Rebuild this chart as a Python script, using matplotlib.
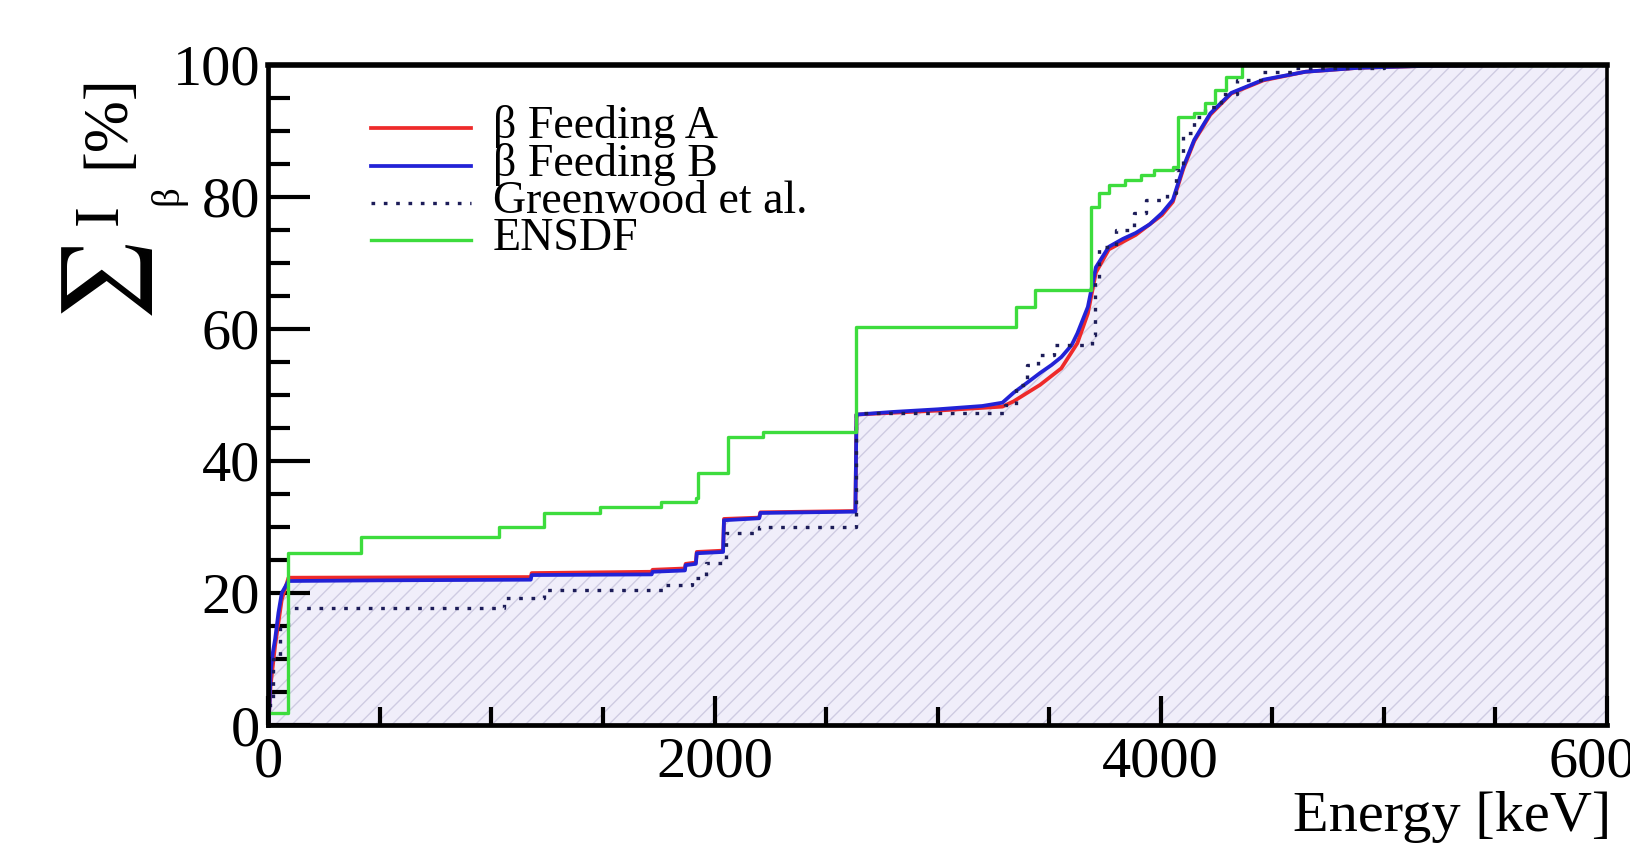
import numpy as np
import matplotlib
matplotlib.use("Agg")
from matplotlib import pyplot as plt
from matplotlib.lines import Line2D
from matplotlib.ticker import MultipleLocator

plt.rcParams['font.family'] = ['Liberation Serif', 'DejaVu Serif']
plt.rcParams['mathtext.fontset'] = 'stix'
plt.rcParams['hatch.linewidth'] = 1.0

# ENSDF cumulative feeding (steps)
ensdf_e = [0, 88, 414, 1035, 1237, 1488, 1758, 1916, 1925, 2060, 2218, 2634,
           3352, 3435, 3686, 3721, 3767, 3839, 3911, 3969, 4054, 4078, 4150,
           4199, 4244, 4293, 4365, 4500, 6000]
ensdf_i = [1.8, 26.0, 28.5, 30.0, 32.1, 33.0, 33.8, 34.4, 38.1, 43.6, 44.4, 60.3,
           63.3, 65.9, 78.4, 80.5, 81.8, 82.5, 83.3, 84.0, 84.5, 92.0, 92.6,
           94.2, 96.1, 98.1, 99.9, 100.0, 100.0]

# beta feeding B
feed_b_e = [0, 5, 10, 20, 30, 45, 60, 90, 500, 1176, 1180, 1718, 1722, 1867,
            1870, 1916, 1920, 2038, 2042, 2200, 2205, 2631, 2636, 2800, 3000,
            3200, 3290, 3340, 3400, 3459, 3510, 3554, 3600, 3626, 3673, 3709,
            3767, 3830, 3888, 3950, 4005, 4054, 4101, 4150, 4222, 4316, 4460,
            4648, 4886, 5200, 6000]
feed_b_i = [0, 3, 8, 11, 13, 17, 20, 21.8, 21.9, 22.0, 22.7, 22.8, 23.2, 23.4,
            24.2, 24.4, 26.0, 26.2, 31.0, 31.3, 32.1, 32.3, 47.0, 47.4, 47.8,
            48.3, 48.8, 50.3, 51.8, 53.3, 54.5, 55.7, 57.5, 59.3, 63.3, 69.3,
            72.4, 73.6, 74.5, 75.8, 77.5, 79.5, 84.5, 88.6, 92.6, 95.7, 97.7,
            98.9, 99.5, 99.8, 100.0]

# beta feeding A
feed_a_e = [0, 10, 30, 60, 90, 1176, 1180, 1718, 1722, 1867, 1870, 1916, 1920,
            2038, 2042, 2200, 2205, 2631, 2636, 3000, 3290, 3340, 3459, 3554,
            3626, 3673, 3709, 3767, 3888, 4005, 4054, 4101, 4150, 4222, 4316,
            4460, 4648, 4886, 5200, 6000]
feed_a_i = [0, 6, 12, 19, 22.3, 22.4, 23.0, 23.2, 23.5, 23.7, 24.4, 24.6, 26.2,
            26.4, 31.2, 31.4, 32.2, 32.4, 47.0, 47.6, 48.2, 49.0, 51.5, 54.0,
            57.8, 62.3, 68.5, 72.0, 74.2, 77.2, 79.2, 84.2, 88.4, 92.4, 95.6,
            97.6, 98.9, 99.5, 99.8, 100.0]

# Greenwood et al. (steps)
green_e = [0, 20, 50, 90, 1056, 1237, 1777, 1898, 1960, 2050, 2200, 2634, 3300,
           3350, 3400, 3450, 3520, 3690, 3705, 3721, 3800, 3880, 3933, 4030,
           4070, 4101, 4150, 4199, 4270, 4340, 4450, 4600, 5000, 6000]
green_i = [3, 10, 15, 17.7, 19.2, 20.4, 21.2, 22.2, 24.5, 29.0, 30.0, 47.2, 48.5,
           51.5, 54.5, 56.0, 57.5, 59.0, 67.0, 72.4, 75.0, 77.5, 79.5, 80.5,
           84.0, 89.6, 92.0, 93.6, 95.5, 97.7, 98.8, 99.5, 100.0, 100.0]

W, H = 1631, 867
fig = plt.figure(figsize=(W / 100, H / 100), dpi=100)
L, R, T, B = 268.4, 1607, 64.5, 725
ax = fig.add_axes([L / W, 1 - B / H, (R - L) / W, (B - T) / H])

ax.fill_between(feed_b_e, feed_b_i, 0, facecolor='#f0eefa', edgecolor='#cfcbe2',
                hatch='//', linewidth=0, zorder=1)
ax.plot(feed_a_e, feed_a_i, color='#ee2a2a', lw=2.7, zorder=3)
ax.plot(feed_b_e, feed_b_i, color='#2222d6', lw=2.7, zorder=4)
ax.plot(green_e, green_i, color='#1c1c58', lw=2.4, ls=(0, (1.1, 2.6)),
        drawstyle='steps-post', zorder=5)
ax.plot(ensdf_e, ensdf_i, color='#3ddc3d', lw=2.4, drawstyle='steps-post', zorder=6)

ax.set_xlim(0, 6000)
ax.set_ylim(0, 100)
ax.xaxis.set_major_locator(MultipleLocator(2000))
ax.xaxis.set_minor_locator(MultipleLocator(500))
ax.yaxis.set_major_locator(MultipleLocator(20))
ax.yaxis.set_minor_locator(MultipleLocator(5))
ax.tick_params(axis='both', which='both', direction='in', top=False, right=False,
               width=3.0, color='black', labelsize=42)
ax.tick_params(axis='y', which='major', length=30, pad=6)
ax.tick_params(axis='y', which='minor', length=16)
ax.tick_params(axis='x', which='major', length=21, pad=8)
ax.tick_params(axis='x', which='minor', length=13)
for s in ax.spines.values():
    s.set_linewidth(3.4)
    s.set_zorder(7)
ax.spines['top'].set_linewidth(4.0)
ax.spines['right'].set_linewidth(2.6)

# x label, right aligned at the axis end
fig.text(1611 / W, 1 - 831 / H, 'Energy [keV]', ha='right', va='baseline', fontsize=42)

# y label pieces: sum, I_beta, [%]
fig.text(108 / W, 1 - 282 / H, r'$\sum$', rotation=90, ha='center', va='center',
         fontsize=64)
fig.text(102 / W, 1 - 215 / H, 'I', rotation=90, ha='center', va='center', fontsize=45)
fig.text(168 / W, 1 - 195 / H, 'β', rotation=90, ha='center', va='center', fontsize=28)
fig.text(108 / W, 1 - 121 / H, '[%]', rotation=90, ha='center', va='center', fontsize=45)

# legend drawn by hand, rows packed tightly as in the original
rows = [('β Feeding A', dict(color='#ee2a2a', lw=2.7)),
        ('β Feeding B', dict(color='#2222d6', lw=2.7)),
        ('Greenwood et al.', dict(color='#1c1c58', lw=2.4, ls=(0, (1.1, 2.6)))),
        ('ENSDF', dict(color='#3ddc3d', lw=2.4))]
ys = [128, 166, 203, 240]
for (lab, st), yp in zip(rows, ys):
    fig.add_artist(Line2D([371 / W, 471 / W], [1 - yp / H, 1 - yp / H], **st))
    fig.text(493 / W, 1 - (yp + 10) / H, lab, ha='left', va='baseline', fontsize=33)

fig.savefig('out.png', dpi=100)
